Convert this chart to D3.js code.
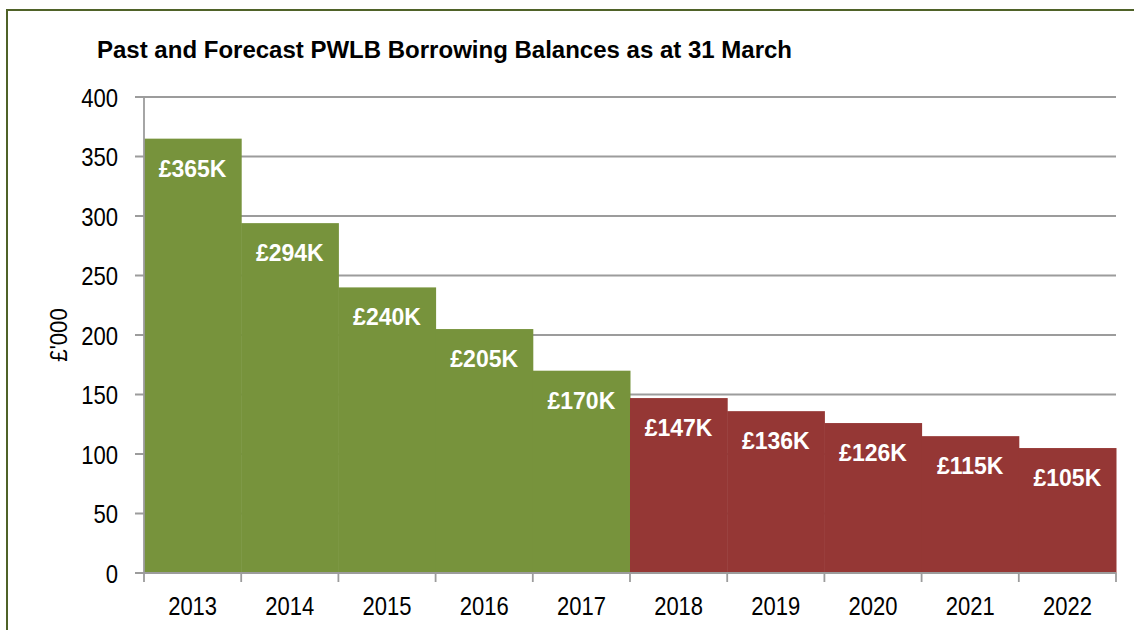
<!DOCTYPE html>
<html lang="en">
<head>
<meta charset="utf-8">
<title>Past and Forecast PWLB Borrowing Balances</title>
<script src="https://d3js.org/d3.v7.min.js"></script>
<style>
    body { margin: 0; background: #fff; }
    svg { display: block; font-family: "Liberation Sans", Arial, sans-serif; }
</style>
</head>
<body>
<script>
    // data
    var years = ["2013", "2014", "2015", "2016", "2017", "2018", "2019", "2020", "2021", "2022"];
    var balances = [365, 294, 240, 205, 170, 147, 136, 126, 115, 105];
    var labels = ["£365K", "£294K", "£240K", "£205K", "£170K", "£147K", "£136K", "£126K", "£115K", "£105K"];
    var forecastFrom = "2018";
    var yTicks = [0, 50, 100, 150, 200, 250, 300, 350, 400];

    var W = 1134, H = 630;
    // note: "top" is reserved on window, so plot edges get their own names
    var plotLeft = 144, plotRight = 1116, plotTop = 97, plotBottom = 573;
    var green = "#77933C", red = "#953735", grid = "#9c9c9c";

    var svg = d3.select("body").append("svg")
        .attr("width", W)
        .attr("height", H);

    // outer frame
    svg.append("rect")
        .attr("x", 7).attr("y", 10)
        .attr("width", W + 20).attr("height", H + 20)
        .attr("fill", "none")
        .attr("stroke", "#4F6228")
        .attr("stroke-width", 2);

    svg.append("text")
        .attr("x", 97).attr("y", 58)
        .attr("font-size", 23)
        .attr("font-weight", "bold")
        .attr("textLength", 695)
        .attr("lengthAdjust", "spacingAndGlyphs")
        .text("Past and Forecast PWLB Borrowing Balances as at 31 March");

    var x = d3.scaleBand().domain(years).range([plotLeft, plotRight]).padding(0);
    var y = d3.scaleLinear().domain([0, 400]).range([plotBottom, plotTop]);

    // gridlines + y ticks
    svg.append("g").selectAll("line")
        .data(yTicks)
        .enter().append("line")
        .attr("x1", plotLeft - 9).attr("x2", plotRight)
        .attr("y1", function (d) { return y(d); })
        .attr("y2", function (d) { return y(d); })
        .attr("stroke", grid)
        .attr("stroke-width", 1.8);

    svg.append("g").selectAll("text")
        .data(yTicks)
        .enter().append("text")
        .attr("transform", function (d) {
            return "translate(118," + (y(d) + 9.5) + ") scale(0.85,1)";
        })
        .attr("text-anchor", "end")
        .attr("font-size", 26)
        .text(function (d) { return d; });

    // bars
    var forecastIdx = years.indexOf(forecastFrom);
    svg.append("g").selectAll("rect")
        .data(balances)
        .enter().append("rect")
        .attr("x", function (d, i) { return x(years[i]); })
        .attr("y", function (d) { return y(d); })
        .attr("width", x.bandwidth() + 0.5)
        .attr("height", function (d) { return y(0) - y(d); })
        .attr("fill", function (d, i) { return i < forecastIdx ? green : red; });

    svg.append("g").selectAll("text")
        .data(balances)
        .enter().append("text")
        .attr("x", function (d, i) { return x(years[i]) + x.bandwidth() / 2; })
        .attr("y", function (d) { return y(d) + 38; })
        .attr("text-anchor", "middle")
        .attr("font-size", 23)
        .attr("font-weight", "bold")
        .attr("fill", "#fff")
        .text(function (d, i) { return labels[i]; });

    // axis lines
    svg.append("line")
        .attr("x1", plotLeft).attr("x2", plotLeft)
        .attr("y1", plotTop).attr("y2", plotBottom)
        .attr("stroke", grid).attr("stroke-width", 1.8);
    svg.append("line")
        .attr("x1", plotLeft - 9).attr("x2", plotRight)
        .attr("y1", plotBottom).attr("y2", plotBottom)
        .attr("stroke", grid).attr("stroke-width", 1.8);

    // x ticks at band edges
    var edges = years.map(function (d) { return x(d); }).concat([plotRight]);
    svg.append("g").selectAll("line")
        .data(edges)
        .enter().append("line")
        .attr("x1", function (d) { return d; })
        .attr("x2", function (d) { return d; })
        .attr("y1", plotBottom).attr("y2", plotBottom + 9)
        .attr("stroke", grid).attr("stroke-width", 1.8);

    svg.append("g").selectAll("text")
        .data(years)
        .enter().append("text")
        .attr("transform", function (d) {
            return "translate(" + (x(d) + x.bandwidth() / 2) + ",615) scale(0.88,1)";
        })
        .attr("text-anchor", "middle")
        .attr("font-size", 25)
        .text(function (d) { return d; });

    svg.append("text")
        .attr("transform", "translate(67," + ((plotTop + plotBottom) / 2) + ") rotate(-90) scale(0.92,1)")
        .attr("text-anchor", "middle")
        .attr("font-size", 24)
        .text("£'000");
</script>
</body>
</html>
